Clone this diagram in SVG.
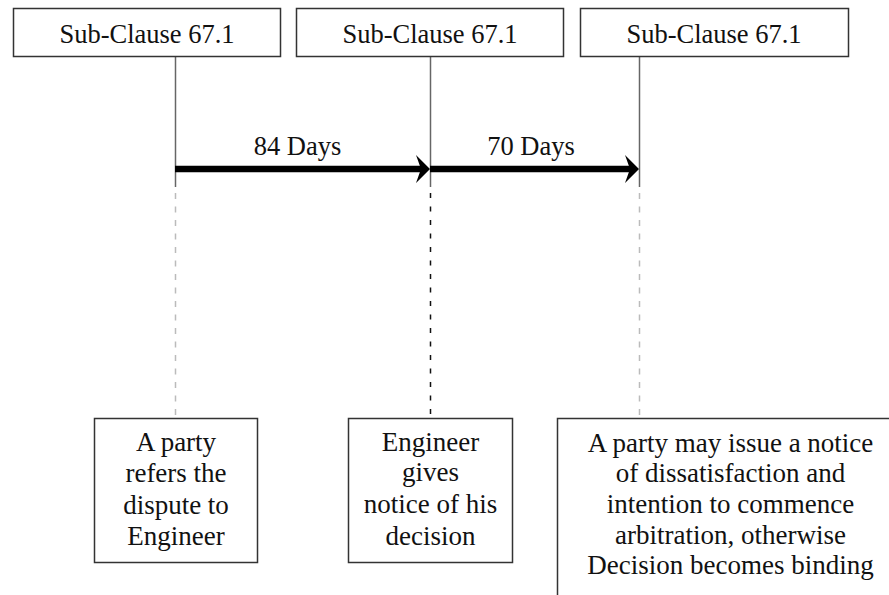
<svg xmlns="http://www.w3.org/2000/svg" width="889" height="595" viewBox="0 0 889 595">
  <style>
    .box { fill: #fff; stroke: #333; stroke-width: 1.5; }
    .stem { stroke: #666; stroke-width: 1.5; fill: none; }
    .dash-light { stroke: #bbb; stroke-width: 1.5; stroke-dasharray: 6 7.5; fill: none; }
    .dash-dark { stroke: #111; stroke-width: 1.5; stroke-dasharray: 5 8.5; fill: none; }
    .span { stroke: #000; stroke-width: 6.5; fill: none; }
    .head { fill: #000; }
  </style>

  <rect width="889" height="595" fill="#fff"/>

  <!-- connectors: timeline stems, dashed drops and duration arrows -->
  <g id="connectors">
    <line class="stem" x1="175.5" y1="57" x2="175.5" y2="187"/>
    <line class="stem" x1="430.5" y1="57" x2="430.5" y2="187"/>
    <line class="stem" x1="639.5" y1="57" x2="639.5" y2="187"/>
    <line class="dash-light" x1="175.5" y1="193" x2="175.5" y2="418"/>
    <line class="dash-dark" x1="430.5" y1="193" x2="430.5" y2="418"/>
    <line class="dash-light" x1="639.5" y1="193" x2="639.5" y2="418"/>

    <line class="span" x1="175" y1="169" x2="422" y2="169"/>
    <path class="head" d="M430,169 L416,155 L421,169 L416,183 Z"/>
    <line class="span" x1="430" y1="169" x2="631" y2="169"/>
    <path class="head" d="M639,169 L625,155 L630,169 L625,183 Z"/>

    <text font-family="'Liberation Serif', serif" font-size="26.5" fill="#111" text-anchor="middle" x="297.5" y="155">84 Days</text>
    <text font-family="'Liberation Serif', serif" font-size="26.5" fill="#111" text-anchor="middle" x="531" y="155">70 Days</text>
  </g>

  <!-- clause headers -->
  <g id="clause-1" font-family="'Liberation Serif', serif" font-size="26.5" fill="#111" text-anchor="middle">
    <rect class="box" x="13.5" y="8.5" width="267" height="48"/>
    <text font-family="'Liberation Serif', serif" x="147" y="43">Sub-Clause 67.1</text>
  </g>
  <g id="clause-2" font-family="'Liberation Serif', serif" font-size="26.5" fill="#111" text-anchor="middle">
    <rect class="box" x="296.5" y="8.5" width="267" height="48"/>
    <text font-family="'Liberation Serif', serif" x="430" y="43">Sub-Clause 67.1</text>
  </g>
  <g id="clause-3" font-family="'Liberation Serif', serif" font-size="26.5" fill="#111" text-anchor="middle">
    <rect class="box" x="580.5" y="8.5" width="268" height="48"/>
    <text font-family="'Liberation Serif', serif" x="714" y="43">Sub-Clause 67.1</text>
  </g>

  <!-- events -->
  <g id="event-refer" font-family="'Liberation Serif', serif" font-size="27" fill="#111" text-anchor="middle">
    <rect class="box" x="94.5" y="418.5" width="163" height="144"/>
    <text font-family="'Liberation Serif', serif" x="176" y="450.5">A party</text>
    <text font-family="'Liberation Serif', serif" x="176" y="482">refers the</text>
    <text font-family="'Liberation Serif', serif" x="176" y="513.5">dispute to</text>
    <text font-family="'Liberation Serif', serif" x="176" y="545">Engineer</text>
  </g>
  <g id="event-decision" font-family="'Liberation Serif', serif" font-size="27" fill="#111" text-anchor="middle">
    <rect class="box" x="348.5" y="418.5" width="164" height="144"/>
    <text font-family="'Liberation Serif', serif" x="430.5" y="450.5">Engineer</text>
    <text font-family="'Liberation Serif', serif" x="430.5" y="481">gives</text>
    <text font-family="'Liberation Serif', serif" x="430.5" y="513">notice of his</text>
    <text font-family="'Liberation Serif', serif" x="430.5" y="545">decision</text>
  </g>
  <g id="event-dissatisfaction" font-family="'Liberation Serif', serif" font-size="27" fill="#111" text-anchor="middle">
    <rect class="box" x="557.5" y="418.5" width="350" height="200"/>
    <text font-family="'Liberation Serif', serif" x="730.5" y="451.5">A party may issue a notice</text>
    <text font-family="'Liberation Serif', serif" x="730.5" y="482">of dissatisfaction and</text>
    <text font-family="'Liberation Serif', serif" x="730.5" y="513">intention to commence</text>
    <text font-family="'Liberation Serif', serif" x="730.5" y="543.5">arbitration, otherwise</text>
    <text font-family="'Liberation Serif', serif" x="730.5" y="574">Decision becomes binding</text>
  </g>
</svg>
